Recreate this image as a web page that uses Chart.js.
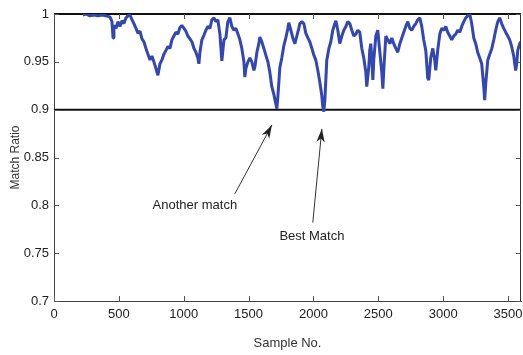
<!DOCTYPE html>
<html lang="en">
<head>
<meta charset="UTF-8">
<title>Match Ratio</title>
<script src="https://cdn.jsdelivr.net/npm/chart.js"></script>
<style>
  html, body { margin: 0; padding: 0; background: #fff; }
  #wrap { width: 523px; height: 355px; }
</style>
</head>
<body>
<div id="wrap"><canvas id="matchChart" width="523" height="355"></canvas></div>
<script>
// sample numbers and match ratios
const samples = [223, 247, 277, 308, 339, 370, 401, 431, 447, 455, 462, 478, 493, 508, 524, 539, 555, 570, 586, 601,
  616, 632, 647, 663, 678, 693, 709, 724, 740, 755, 770, 786, 801, 817, 832, 847, 863, 878, 894, 909,
  924, 940, 955, 971, 986, 1002, 1017, 1032, 1048, 1063, 1079, 1094, 1109, 1117, 1125, 1140, 1156, 1171, 1186, 1202,
  1217, 1233, 1248, 1263, 1279, 1294, 1302, 1310, 1325, 1340, 1356, 1371, 1387, 1402, 1418, 1433, 1448, 1464, 1471, 1479,
  1495, 1510, 1525, 1541, 1549, 1564, 1579, 1587, 1602, 1618, 1633, 1649, 1664, 1679, 1695, 1710, 1718, 1726, 1741, 1756,
  1772, 1787, 1803, 1810, 1826, 1841, 1857, 1872, 1887, 1895, 1911, 1926, 1941, 1957, 1972, 1988, 2003, 2018, 2034, 2049,
  2065, 2072, 2080, 2088, 2103, 2119, 2134, 2149, 2165, 2173, 2188, 2203, 2219, 2234, 2250, 2265, 2280, 2296, 2311, 2327,
  2342, 2357, 2373, 2388, 2404, 2411, 2427, 2434, 2442, 2450, 2458, 2465, 2481, 2496, 2512, 2527, 2535, 2542, 2558, 2573,
  2589, 2604, 2619, 2635, 2650, 2666, 2681, 2696, 2712, 2727, 2743, 2758, 2773, 2789, 2804, 2820, 2835, 2850, 2866, 2881,
  2889, 2904, 2920, 2935, 2943, 2958, 2974, 2989, 3005, 3020, 3035, 3051, 3066, 3082, 3097, 3112, 3128, 3143, 3159, 3174,
  3189, 3205, 3220, 3236, 3251, 3266, 3282, 3297, 3313, 3320, 3328, 3344, 3359, 3375, 3390, 3405, 3421, 3436, 3451, 3467,
  3482, 3498, 3513, 3528, 3544, 3559, 3567, 3575, 3590, 3598];

const matchRatio = [0.999, 1.000, 0.998, 0.999, 0.998, 0.999, 0.998, 0.997, 0.992, 0.975, 0.988, 0.985, 0.992, 0.987, 0.993, 0.990, 0.996, 0.998, 0.999, 0.994,
  0.990, 0.985, 0.980, 0.982, 0.974, 0.971, 0.964, 0.958, 0.952, 0.956, 0.950, 0.943, 0.936, 0.948, 0.952, 0.958, 0.962, 0.966, 0.964, 0.973,
  0.977, 0.981, 0.979, 0.986, 0.988, 0.985, 0.982, 0.977, 0.974, 0.971, 0.964, 0.960, 0.954, 0.948, 0.960, 0.973, 0.978, 0.983, 0.987, 0.985,
  0.994, 0.996, 0.992, 0.994, 0.979, 0.951, 0.962, 0.973, 0.975, 0.992, 0.996, 0.987, 0.983, 0.985, 0.979, 0.973, 0.964, 0.950, 0.934, 0.943,
  0.950, 0.954, 0.950, 0.941, 0.945, 0.960, 0.969, 0.976, 0.971, 0.964, 0.957, 0.950, 0.939, 0.924, 0.916, 0.906, 0.901, 0.914, 0.944, 0.954,
  0.967, 0.975, 0.985, 0.991, 0.983, 0.975, 0.969, 0.977, 0.985, 0.990, 0.992, 0.990, 0.980, 0.975, 0.971, 0.964, 0.957, 0.952, 0.941, 0.929,
  0.914, 0.903, 0.898, 0.910, 0.952, 0.964, 0.971, 0.983, 0.990, 0.993, 0.983, 0.969, 0.977, 0.983, 0.987, 0.992, 0.990, 0.983, 0.977, 0.979,
  0.983, 0.981, 0.964, 0.954, 0.939, 0.924, 0.945, 0.962, 0.969, 0.954, 0.931, 0.952, 0.977, 0.983, 0.960, 0.939, 0.922, 0.941, 0.977, 0.973,
  0.969, 0.975, 0.969, 0.964, 0.960, 0.969, 0.975, 0.981, 0.987, 0.992, 0.985, 0.983, 0.987, 0.990, 0.994, 0.996, 0.987, 0.973, 0.962, 0.933,
  0.931, 0.954, 0.964, 0.952, 0.941, 0.962, 0.979, 0.985, 0.983, 0.987, 0.981, 0.977, 0.973, 0.977, 0.979, 0.983, 0.981, 0.987, 0.992, 0.996,
  0.998, 1.000, 0.990, 0.975, 0.969, 0.960, 0.954, 0.948, 0.924, 0.910, 0.927, 0.952, 0.958, 0.964, 0.973, 0.983, 0.992, 0.996, 0.990, 0.985,
  0.981, 0.977, 0.973, 0.966, 0.956, 0.941, 0.948, 0.962, 0.969, 0.971];

// horizontal reference lines
const thresholds = [1, 0.9];

const xTicks = [0, 500, 1000, 1500, 2000, 2500, 3000, 3500];
const yTicks = [0.7, 0.75, 0.8, 0.85, 0.9, 0.95, 1];

// annotations: [label, text x, text y, arrow tail x, tail y, head x, head y]
const notes = [
  ['Another match', 1086, 0.800, 1394, 0.812, 1680, 0.884],
  ['Best Match', 1988, 0.768, 1995, 0.782, 2065, 0.880]
];

const FONT = '"Liberation Sans Narrow", "Liberation Sans", Arial, sans-serif';

// matlab style box with inward ticks, plus arrows and labels
const boxPlugin = {
  id: 'boxPlugin',
  afterDraw(chart) {
    const ctx = chart.ctx;
    const a = chart.chartArea;
    const xs = chart.scales.x, ys = chart.scales.y;
    ctx.save();
    ctx.strokeStyle = '#333';
    ctx.lineWidth = 1;
    ctx.beginPath();
    ctx.moveTo(a.right - 0.5, a.top);
    ctx.lineTo(a.right - 0.5, a.bottom);
    ctx.stroke();

    ctx.strokeStyle = '#555';
    ctx.beginPath();
    xTicks.forEach(v => {
      const px = Math.round(xs.getPixelForValue(v)) + 0.5;
      ctx.moveTo(px, a.bottom); ctx.lineTo(px, a.bottom - 5);
      ctx.moveTo(px, a.top); ctx.lineTo(px, a.top + 5);
    });
    yTicks.forEach(v => {
      const py = Math.round(ys.getPixelForValue(v)) + 0.5;
      ctx.moveTo(a.left, py); ctx.lineTo(a.left + 5, py);
      ctx.moveTo(a.right, py); ctx.lineTo(a.right - 5, py);
    });
    ctx.stroke();

    ctx.fillStyle = '#222';
    ctx.strokeStyle = '#333';
    ctx.font = '13px ' + FONT;
    ctx.textAlign = 'center';
    ctx.textBaseline = 'middle';
    notes.forEach(n => {
      const tx = xs.getPixelForValue(n[1]), ty = ys.getPixelForValue(n[2]);
      const x0 = xs.getPixelForValue(n[3]), y0 = ys.getPixelForValue(n[4]);
      const x1 = xs.getPixelForValue(n[5]), y1 = ys.getPixelForValue(n[6]);
      ctx.fillText(n[0], tx, ty);
      ctx.lineWidth = 1;
      ctx.beginPath();
      ctx.moveTo(x0, y0);
      ctx.lineTo(x1, y1);
      ctx.stroke();
      const ang = Math.atan2(y1 - y0, x1 - x0);
      const len = 14, w = 0.3;
      ctx.beginPath();
      ctx.moveTo(x1, y1);
      ctx.lineTo(x1 - len * Math.cos(ang - w), y1 - len * Math.sin(ang - w));
      ctx.lineTo(x1 - len * 0.7 * Math.cos(ang), y1 - len * 0.7 * Math.sin(ang));
      ctx.lineTo(x1 - len * Math.cos(ang + w), y1 - len * Math.sin(ang + w));
      ctx.closePath();
      ctx.fill();
    });
    ctx.restore();
  }
};

const lineData = samples.map((s, i) => ({ x: s, y: matchRatio[i] }));
const refSets = thresholds.map(t => ({
  data: [{ x: 0, y: t }, { x: 3600, y: t }],
  borderColor: '#111',
  borderWidth: 2,
  pointRadius: 0,
  clip: false
}));

new Chart(document.getElementById('matchChart'), {
  type: 'line',
  data: {
    datasets: [{
      data: lineData,
      borderColor: 'rgb(50, 70, 180)',
      borderWidth: 3,
      borderJoinStyle: 'bevel',
      pointRadius: 0,
      tension: 0
    }].concat(refSets)
  },
  options: {
    responsive: false,
    animation: false,
    layout: { padding: { top: 14, right: 2, left: 4, bottom: 0 } },
    plugins: { legend: { display: false }, tooltip: { enabled: false } },
    scales: {
      x: {
        type: 'linear',
        min: 0,
        max: 3600,
        afterBuildTicks: s => { s.ticks = xTicks.map(v => ({ value: v })); },
        afterFit: s => { s.height = 54; s.paddingLeft = 0; s.paddingRight = 0; },
        grid: { display: false, drawTicks: false },
        border: { display: true, color: '#444', width: 1 },
        ticks: { color: '#222', font: { family: FONT, size: 13 }, padding: 6, maxRotation: 0, callback: v => String(v) },
        title: { display: true, text: 'Sample No.', color: '#333', font: { family: FONT, size: 13 }, padding: { top: 2 } }
      },
      y: {
        type: 'linear',
        min: 0.7,
        max: 1,
        afterBuildTicks: s => { s.ticks = yTicks.map(v => ({ value: v })); },
        afterFit: s => { s.width = 50; s.paddingTop = 0; s.paddingBottom = 0; },
        grid: { display: false, drawTicks: false },
        border: { display: true, color: '#444', width: 1 },
        ticks: { color: '#222', font: { family: FONT, size: 13 }, padding: 5, callback: v => String(v) },
        title: { display: true, text: 'Match Ratio', color: '#333', font: { family: '"Liberation Sans", Arial, sans-serif', size: 12 }, padding: { bottom: 0 } }
      }
    }
  },
  plugins: [boxPlugin]
});
</script>
</body>
</html>
